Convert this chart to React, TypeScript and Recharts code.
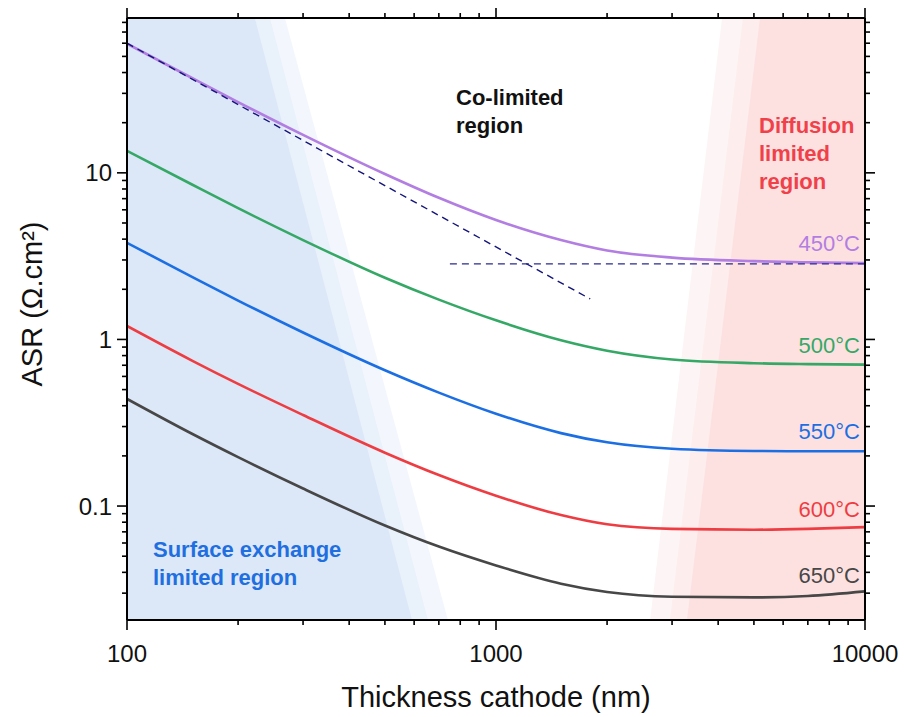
import { ComposedChart, Line, Area, XAxis, YAxis } from "recharts";

// thickness of the cathode (nm) and ASR (ohm.cm2)
const thickness = [100, 150, 200, 300, 500, 700, 1000, 1500, 2000, 3000, 5000, 7000, 10000];
const asr450 = [59.6, 37.1, 26.6, 16.9, 9.84, 7.08, 5.21, 3.95, 3.42, 3.1, 2.95, 2.9, 2.87];
const asr500 = [13.55, 8.51, 6.14, 3.95, 2.345, 1.733, 1.302, 0.989, 0.856, 0.758, 0.72, 0.711, 0.706];
const asr550 = [3.8, 2.376, 1.711, 1.1, 0.653, 0.4795, 0.358, 0.274, 0.2412, 0.2207, 0.214, 0.2133, 0.2133];
const asr600 = [1.205, 0.747, 0.541, 0.352, 0.209, 0.1535, 0.1153, 0.0883, 0.0777, 0.0729, 0.0721, 0.0729, 0.0747];
const asr650 = [0.4395, 0.2715, 0.1966, 0.1274, 0.0764, 0.0571, 0.044, 0.0342, 0.0305, 0.02856, 0.02828, 0.02885, 0.03075];

// asymptotes for 450°C
const slopeX = [100, 1800];
const slopeY = [60, 1.75];
const plateauX = [750, 10000];
const plateauY = [2.84, 2.84];

// shaded region edges: thickness where the edge meets the top / bottom of the plot
const surfaceEdgeTop = [268, 244, 222];
const surfaceEdgeBottom = [741, 654, 592];
const diffusionEdgeTop = [4098, 4671, 5193];
const diffusionEdgeBottom = [2615, 2961, 3293];

const X_MIN = 100;
const X_MAX = 10000;
const Y_MIN = 0.0207;
const Y_MAX = 85;

const xTicks = [100, 200, 300, 400, 500, 600, 700, 800, 900, 1000, 2000, 3000, 4000, 5000, 6000, 7000, 8000, 9000, 10000];
const yTicks = [
  0.03, 0.04, 0.05, 0.06, 0.07, 0.08, 0.09, 0.1, 0.2, 0.3, 0.4, 0.5, 0.6, 0.7, 0.8, 0.9, 1,
  2, 3, 4, 5, 6, 7, 8, 9, 10, 20, 30, 40, 50, 60, 70, 80,
];

const series = [
  { name: "450°C", values: asr450, color: "#b27ee2", lift: 12 },
  { name: "500°C", values: asr500, color: "#35a866", lift: 12 },
  { name: "550°C", values: asr550, color: "#1c6fe3", lift: 12 },
  { name: "600°C", values: asr600, color: "#ee3d42", lift: 10 },
  { name: "650°C", values: asr650, color: "#474747", lift: 8 },
];

const surfaceColors = ["#f3f7fd", "#e9f1fb", "#dce8f8"];
const diffusionColors = ["#fdf5f5", "#fdeded", "#fde1e1"];

const FONT = '"Liberation Sans", Arial, Helvetica, sans-serif';

const isMajor = (v: number) => Math.abs(Math.log10(v) - Math.round(Math.log10(v))) < 1e-9;

const makeTick = (side: "left" | "bottom" | "top" | "right") => (props: any) => {
  const { x, y, payload } = props;
  const major = isMajor(payload.value);
  const len = major ? 10 : 5;
  let line;
  let label = null;
  if (side === "left") {
    line = <line x1={x} y1={y} x2={x - len} y2={y} stroke="#000" strokeWidth={1.6} />;
    if (major)
      label = (
        <text x={x - 15} y={y + 8.5} textAnchor="end" fontSize={24} fill="#111" fontFamily={FONT}>
          {payload.value}
        </text>
      );
  } else if (side === "bottom") {
    line = <line x1={x} y1={y} x2={x} y2={y + len} stroke="#000" strokeWidth={1.6} />;
    if (major)
      label = (
        <text x={x} y={y + 42} textAnchor="middle" fontSize={24} fill="#111" fontFamily={FONT}>
          {payload.value}
        </text>
      );
  } else if (side === "top") {
    line = <line x1={x} y1={y} x2={x} y2={y - len} stroke="#000" strokeWidth={1.6} />;
  } else {
    line = <line x1={x} y1={y} x2={x + len} y2={y} stroke="#000" strokeWidth={1.6} />;
  }
  return (
    <g>
      {line}
      {label}
    </g>
  );
};

const toPoints = (xs: number[], ys: number[]) => xs.map((x, i) => ({ x, y: ys[i] }));

const surfaceBand = (i: number) => [
  { x: X_MIN, r: [Y_MIN, Y_MAX] },
  { x: surfaceEdgeTop[i], r: [Y_MIN, Y_MAX] },
  { x: surfaceEdgeBottom[i], r: [Y_MIN, Y_MIN] },
];

const diffusionBand = (i: number) => [
  { x: diffusionEdgeBottom[i], r: [Y_MIN, Y_MIN] },
  { x: diffusionEdgeTop[i], r: [Y_MIN, Y_MAX] },
  { x: X_MAX, r: [Y_MIN, Y_MAX] },
];

const axisLine = { stroke: "#000", strokeWidth: 2 };

export default function App() {
  const last = thickness.length - 1;
  return (
    <div style={{ position: "absolute", left: 0, top: 0, width: 904, height: 717, background: "#fff" }}>
      <ComposedChart width={904} height={717} margin={{ top: 0, right: 0, bottom: 0, left: 0 }}>
        {[0, 1, 2].map((i) => (
          <Area
            key={"s" + i}
            data={surfaceBand(i)}
            dataKey="r"
            type="linear"
            stroke="none"
            fill={surfaceColors[i]}
            fillOpacity={1}
            isAnimationActive={false}
          />
        ))}
        {[0, 1, 2].map((i) => (
          <Area
            key={"d" + i}
            data={diffusionBand(i)}
            dataKey="r"
            type="linear"
            stroke="none"
            fill={diffusionColors[i]}
            fillOpacity={1}
            isAnimationActive={false}
          />
        ))}
        <XAxis
          dataKey="x"
          type="number"
          scale="log"
          domain={[X_MIN, X_MAX]}
          allowDataOverflow
          ticks={xTicks}
          interval={0}
          height={97}
          tickSize={0}
          tickMargin={0}
          tickLine={false}
          axisLine={axisLine}
          tick={makeTick("bottom")}
          label={{
            content: ({ viewBox }: any) => (
              <text
                x={viewBox.x + viewBox.width / 2}
                y={viewBox.y + 87}
                textAnchor="middle"
                fontSize={29}
                fill="#111"
                fontFamily={FONT}
              >
                Thickness cathode (nm)
              </text>
            ),
          }}
        />
        <XAxis
          xAxisId="top"
          orientation="top"
          dataKey="x"
          type="number"
          scale="log"
          domain={[X_MIN, X_MAX]}
          allowDataOverflow
          ticks={xTicks}
          interval={0}
          height={18}
          tickSize={0}
          tickMargin={0}
          tickLine={false}
          axisLine={axisLine}
          tick={makeTick("top")}
        />
        <YAxis
          type="number"
          scale="log"
          domain={[Y_MIN, Y_MAX]}
          allowDataOverflow
          ticks={yTicks}
          interval={0}
          width={127}
          tickSize={0}
          tickMargin={0}
          tickLine={false}
          axisLine={axisLine}
          tick={makeTick("left")}
          label={{
            content: ({ viewBox }: any) => {
              const cx = 42;
              const cy = viewBox.y + 286;
              return (
                <text
                  x={cx}
                  y={cy}
                  transform={`rotate(-90, ${cx}, ${cy})`}
                  textAnchor="middle"
                  fontSize={29}
                  fill="#111"
                  fontFamily={FONT}
                >
                  ASR (Ω.cm²)
                </text>
              );
            },
          }}
        />
        <YAxis
          yAxisId="right"
          orientation="right"
          type="number"
          scale="log"
          domain={[Y_MIN, Y_MAX]}
          allowDataOverflow
          ticks={yTicks}
          interval={0}
          width={39}
          tickSize={0}
          tickMargin={0}
          tickLine={false}
          axisLine={axisLine}
          tick={makeTick("right")}
        />
        {series.map((s) => (
          <Line
            key={s.name}
            data={toPoints(thickness, s.values)}
            dataKey="y"
            type="monotone"
            stroke={s.color}
            strokeWidth={2.6}
            dot={false}
            isAnimationActive={false}
            label={(p: any) =>
              p.index === last ? (
                <text
                  key="lbl"
                  x={p.x - 5}
                  y={p.y - s.lift}
                  textAnchor="end"
                  fontSize={22}
                  fill={s.color}
                  fontFamily={FONT}
                >
                  {s.name}
                </text>
              ) : (
                <g key={"e" + p.index} />
              )
            }
          />
        ))}
        <Line
          data={toPoints(slopeX, slopeY)}
          dataKey="y"
          type="linear"
          stroke="#14147a"
          strokeWidth={1.4}
          strokeDasharray="7 5"
          dot={false}
          isAnimationActive={false}
        />
        <Line
          data={toPoints(plateauX, plateauY)}
          dataKey="y"
          type="linear"
          stroke="#2a2a90"
          strokeWidth={1.4}
          strokeDasharray="7 5"
          dot={false}
          isAnimationActive={false}
        />
      </ComposedChart>
      <svg
        width={904}
        height={717}
        style={{ position: "absolute", left: 0, top: 0, pointerEvents: "none" }}
        fontFamily={FONT}
        fontWeight="bold"
        fontSize={22}
      >
        <text x={456} y={105} fill="#111">
          Co-limited
        </text>
        <text x={456} y={133} fill="#111">
          region
        </text>
        <text x={759} y={133} fill="#f0404a">
          Diffusion
        </text>
        <text x={759} y={161} fill="#f0404a">
          limited
        </text>
        <text x={759} y={189} fill="#f0404a">
          region
        </text>
        <text x={153} y={557} fill="#1f6fe0">
          Surface exchange
        </text>
        <text x={153} y={585} fill="#1f6fe0">
          limited region
        </text>
      </svg>
    </div>
  );
}
